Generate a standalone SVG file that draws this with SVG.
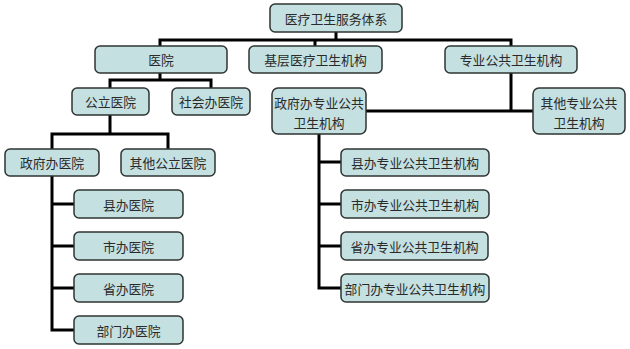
<svg xmlns="http://www.w3.org/2000/svg" width="630" height="349" viewBox="0 0 630 349">
<style>
.n rect{fill:#c4e0e1;stroke:#2e3432;stroke-width:1.5}
.n text{font-family:"Noto Sans CJK SC","Noto Sans",sans-serif;font-size:12.8px;fill:#2a2a2a;text-anchor:middle;dominant-baseline:central}
.c path{fill:none;stroke:#000;stroke-width:3;stroke-linecap:square}
</style>
<rect width="630" height="349" fill="#fff"/>
<g class="c">
<path d="M336 32V40M160 40H511M160 40V46M315 40V46M511 40V46"/>
<path d="M160 73V80M110 80H211M110 80V88M211 80V88"/>
<path d="M110 115V134M52 134H168M52 134V149M168 134V149"/>
<path d="M52 176V330M52 204H74M52 246H74M52 288H74M52 330H74"/>
<path d="M511 73V111M366 111H533"/>
<path d="M319 134V288M319 162H341M319 204H341M319 246H341M319 288H341"/>
</g>
<g id="root" class="n"><rect x="270" y="4" width="132" height="28" rx="5"/><text x="336" y="18">医疗卫生服务体系</text></g>
<g id="hosp" class="n"><rect x="95" y="46" width="132" height="27" rx="5"/><text x="161" y="59.5">医院</text></g>
<g id="jiceng" class="n"><rect x="249" y="46" width="133" height="27" rx="5"/><text x="315.5" y="59.5">基层医疗卫生机构</text></g>
<g id="zhuanye" class="n"><rect x="445" y="46" width="132" height="27" rx="5"/><text x="511" y="59.5">专业公共卫生机构</text></g>
<g id="gongli" class="n"><rect x="72" y="88" width="77" height="27" rx="5"/><text x="110.5" y="101.5">公立医院</text></g>
<g id="shehui" class="n"><rect x="172" y="88" width="78" height="27" rx="5"/><text x="211" y="101.5">社会办医院</text></g>
<g id="zfzy" class="n"><rect x="272" y="88" width="94" height="46" rx="6"/><text x="319" y="102">政府办专业公共</text><text x="319" y="122">卫生机构</text></g>
<g id="qtzy" class="n"><rect x="533" y="88" width="92" height="46" rx="6"/><text x="579" y="102">其他专业公共</text><text x="579" y="122">卫生机构</text></g>
<g id="zfyy" class="n"><rect x="5" y="149" width="94" height="27" rx="5"/><text x="52" y="162.5">政府办医院</text></g>
<g id="qtgl" class="n"><rect x="121" y="149" width="94" height="27" rx="5"/><text x="168" y="162.5">其他公立医院</text></g>
<g id="xianyy" class="n"><rect x="74" y="190" width="109" height="28" rx="5"/><text x="128.5" y="204">县办医院</text></g>
<g id="shiyy" class="n"><rect x="74" y="232" width="109" height="28" rx="5"/><text x="128.5" y="246">市办医院</text></g>
<g id="shengyy" class="n"><rect x="74" y="274" width="109" height="28" rx="5"/><text x="128.5" y="288">省办医院</text></g>
<g id="bumenyy" class="n"><rect x="74" y="316" width="109" height="28" rx="5"/><text x="128.5" y="330">部门办医院</text></g>
<g id="xianzy" class="n"><rect x="341" y="149" width="148" height="27" rx="5"/><text x="415" y="162.5">县办专业公共卫生机构</text></g>
<g id="shizy" class="n"><rect x="341" y="190" width="148" height="28" rx="5"/><text x="415" y="204">市办专业公共卫生机构</text></g>
<g id="shengzy" class="n"><rect x="341" y="232" width="147" height="28" rx="5"/><text x="414.5" y="246">省办专业公共卫生机构</text></g>
<g id="bumenzy" class="n"><rect x="341" y="274" width="148" height="28" rx="5"/><text x="415" y="288">部门办专业公共卫生机构</text></g>
</svg>
